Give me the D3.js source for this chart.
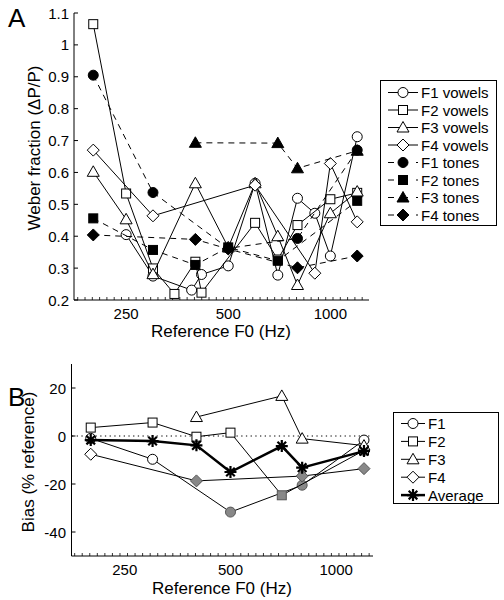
<!DOCTYPE html>
<html><head><meta charset="utf-8">
<script src="https://cdn.jsdelivr.net/npm/d3@7"></script>
<style>
body{margin:0;background:#fff}
text{font-family:"Liberation Sans",Arial,Helvetica,sans-serif;fill:#000}
</style>
</head><body>
<svg id="chart" width="504" height="600"></svg>
<script>
// ---------- Panel A data (Weber fraction) ----------
const f1VowelsF0 = [250,300,390,417,500,600,700,800,900,1000,1200];
const f1VowelsW  = [0.405,0.275,0.231,0.280,0.307,0.566,0.278,0.519,0.472,0.338,0.712];
const f2VowelsF0 = [200,250,300,347,400,417,600,700,800,1000,1200];
const f2VowelsW  = [1.065,0.534,0.299,0.219,0.320,0.223,0.442,0.327,0.435,0.516,0.536];
const f3VowelsF0 = [200,250,300,400,500,600,700,800,1000,1200];
const f3VowelsW  = [0.602,0.453,0.281,0.566,0.365,0.566,0.400,0.247,0.472,0.540];
const f4VowelsF0 = [200,300,600,900,1000,1200];
const f4VowelsW  = [0.670,0.464,0.560,0.284,0.628,0.445];
const f1TonesF0 = [200,300,500,800,1200];
const f1TonesW  = [0.905,0.537,0.362,0.393,0.670];
const f2TonesF0 = [200,300,400,500,700,1200];
const f2TonesW  = [0.456,0.357,0.310,0.365,0.323,0.511];
const f3TonesF0 = [400,700,800,1200];
const f3TonesW  = [0.693,0.692,0.613,0.668];
const f4TonesF0 = [200,400,500,800,1200];
const f4TonesW  = [0.404,0.390,0.360,0.301,0.338];
const weberTicks = [0.2,0.3,0.4,0.5,0.6,0.7,0.8,0.9,1,1.1];
const legendA = ["F1 vowels","F2 vowels","F3 vowels","F4 vowels","F1 tones","F2 tones","F3 tones","F4 tones"];

// ---------- Panel B data (Bias) ----------
const biasF1F0 = [200,300,500,800,1200];
const biasF1   = [-1.0,-9.7,-31.7,-20.5,-1.7];
const biasF1Sig= [0,0,1,1,0];
const biasF2F0 = [200,300,400,500,700,1200];
const biasF2   = [3.5,5.6,-0.3,1.4,-24.7,-6.0];
const biasF2Sig= [0,0,0,0,1,0];
const biasF3F0 = [400,700,800,1200];
const biasF3   = [7.9,16.7,-1.1,-4.0];
const biasF3Sig= [0,0,0,0];
const biasF4F0 = [200,400,800,1200];
const biasF4   = [-7.6,-18.7,-16.7,-13.6];
const biasF4Sig= [0,1,1,1];
const avgF0 = [200,300,400,500,700,800,1200];
const avgBias = [-1.7,-2.1,-3.9,-15.0,-4.2,-13.2,-6.3];
const biasTicks = [-40,-20,0,20];
const legendB = ["F1","F2","F3","F4","Average"];

const f0Labels = [250,500,1000];

// ---------- helpers ----------
const svg = d3.select("#chart");
const FONT = 15;

function marker(g, type, x, y, fill, stroke) {
  stroke = stroke || "#000";
  let el;
  if (type === "circle") {
    el = g.append("circle").attr("cx", x).attr("cy", y).attr("r", 5);
  } else if (type === "square") {
    el = g.append("rect").attr("x", x-4.5).attr("y", y-4.5).attr("width", 9).attr("height", 9);
  } else if (type === "triangle") {
    el = g.append("path").attr("d", `M${x},${y-6}L${x+6},${y+4.5}L${x-6},${y+4.5}Z`);
  } else if (type === "diamond") {
    el = g.append("path").attr("d", `M${x},${y-6}L${x+6},${y}L${x},${y+6}L${x-6},${y}Z`);
  } else if (type === "star") {
    const a = 6, b = 4.3;
    g.append("path").attr("d",
      `M${x-a},${y}L${x+a},${y}M${x},${y-a}L${x},${y+a}M${x-b},${y-b}L${x+b},${y+b}M${x-b},${y+b}L${x+b},${y-b}`)
      .attr("stroke-width", 2.2).attr("fill","none").attr("stroke","#000");
    return;
  }
  el.attr("fill", fill).attr("stroke", stroke).attr("stroke-width", 1);
}

function minorTicks(lo, hi) {
  const out = [];
  for (let k = 0; ; k++) {
    const v = lo * Math.pow(2, k/14);
    if (v > hi) break;
    out.push(v);
  }
  return out;
}

function drawXAxis(g, x, yPix, x0, x1) {
  g.append("line").attr("x1", x0).attr("x2", x1).attr("y1", yPix).attr("y2", yPix)
    .attr("stroke","#000").attr("stroke-width",1);
  minorTicks(180, 1270).forEach(v => {
    g.append("line").attr("x1", x(v)).attr("x2", x(v)).attr("y1", yPix).attr("y2", yPix-3)
      .attr("stroke","#000").attr("stroke-width",0.8);
  });
  f0Labels.forEach(v => {
    g.append("text").attr("x", x(v)).attr("y", yPix+19).attr("text-anchor","middle")
      .attr("font-size", FONT).text(v);
  });
}

// ================= PANEL A =================
const xA = d3.scaleLog().domain([175.5,1300]).range([74,369]);
const yA = d3.scaleLinear().domain([0.2,1.1]).range([300,13]);
const gA = svg.append("g");

gA.append("line").attr("x1",74).attr("x2",74).attr("y1",13).attr("y2",300).attr("stroke","#000");
weberTicks.forEach(v => {
  gA.append("line").attr("x1",74).attr("x2",78).attr("y1",yA(v)).attr("y2",yA(v)).attr("stroke","#000");
  gA.append("text").attr("x",69).attr("y",yA(v)+5.5).attr("text-anchor","end")
    .attr("font-size",FONT).text(d3.format("~g")(v));
});
drawXAxis(gA, xA, 300, 74, 369);
gA.append("text").attr("x",221).attr("y",337).attr("text-anchor","middle").attr("font-size",17)
  .text("Reference F0 (Hz)");
gA.append("text").attr("transform","translate(40,148) rotate(-90)").attr("text-anchor","middle")
  .attr("font-size",17).text("Weber fraction (\u0394P/P)");
svg.append("text").attr("x",8).attr("y",27).attr("font-size",26).text("A");

const seriesA = [
  {f:f1VowelsF0, w:f1VowelsW, m:"circle",   fill:"#fff", dash:null},
  {f:f2VowelsF0, w:f2VowelsW, m:"square",   fill:"#fff", dash:null},
  {f:f3VowelsF0, w:f3VowelsW, m:"triangle", fill:"#fff", dash:null},
  {f:f4VowelsF0, w:f4VowelsW, m:"diamond",  fill:"#fff", dash:null},
  {f:f1TonesF0,  w:f1TonesW,  m:"circle",   fill:"#000", dash:"6,5"},
  {f:f2TonesF0,  w:f2TonesW,  m:"square",   fill:"#000", dash:"6,5"},
  {f:f3TonesF0,  w:f3TonesW,  m:"triangle", fill:"#000", dash:"6,5"},
  {f:f4TonesF0,  w:f4TonesW,  m:"diamond",  fill:"#000", dash:"6,5"}
];
const lineA = d3.line().x(d => xA(d[0])).y(d => yA(d[1]));
seriesA.forEach(s => {
  const pts = s.f.map((f,i) => [f, s.w[i]]);
  gA.append("path").attr("d", lineA(pts)).attr("fill","none").attr("stroke","#000")
    .attr("stroke-width",1).attr("stroke-dasharray", s.dash);
  pts.forEach(p => marker(gA, s.m, xA(p[0]), yA(p[1]), s.fill));
});

const lgA = svg.append("g");
lgA.append("rect").attr("x",380.5).attr("y",80.5).attr("width",116).attr("height",145)
  .attr("fill","#fff").attr("stroke","#000");
seriesA.forEach((s,i) => {
  const yy = 92.5 + i*17.5;
  lgA.append("line").attr("x1",388).attr("x2",418).attr("y1",yy).attr("y2",yy)
    .attr("stroke","#000").attr("stroke-dasharray", s.dash ? "6,8" : null);
  marker(lgA, s.m, 403, yy, s.fill);
  lgA.append("text").attr("x",421).attr("y",yy+5.5).attr("font-size",FONT).text(legendA[i]);
});

// ================= PANEL B =================
const xB = d3.scaleLog().domain([176.3,1273]).range([71.5,373]);
const yB = d3.scaleLinear().domain([-50,30]).range([556,364]);
const gB = svg.append("g");
gB.append("line").attr("x1",71.5).attr("x2",71.5).attr("y1",364).attr("y2",556).attr("stroke","#000");
biasTicks.forEach(v => {
  gB.append("line").attr("x1",71.5).attr("x2",75.5).attr("y1",yB(v)).attr("y2",yB(v)).attr("stroke","#000");
  gB.append("text").attr("x",66).attr("y",yB(v)+5.5).attr("text-anchor","end")
    .attr("font-size",FONT).text(v);
});
drawXAxis(gB, xB, 556, 71.5, 373);
gB.append("line").attr("x1",72).attr("x2",370).attr("y1",yB(0)).attr("y2",yB(0))
  .attr("stroke","#000").attr("stroke-dasharray","1.3,3.4");
gB.append("text").attr("x",222).attr("y",594).attr("text-anchor","middle").attr("font-size",17)
  .text("Reference F0 (Hz)");
gB.append("text").attr("transform","translate(34,462) rotate(-90)").attr("text-anchor","middle")
  .attr("font-size",17).text("Bias (% reference)");
svg.append("text").attr("x",8).attr("y",406).attr("font-size",26).text("B");

const seriesB = [
  {f:biasF1F0, v:biasF1, sig:biasF1Sig, m:"circle"},
  {f:biasF2F0, v:biasF2, sig:biasF2Sig, m:"square"},
  {f:biasF3F0, v:biasF3, sig:biasF3Sig, m:"triangle"},
  {f:biasF4F0, v:biasF4, sig:biasF4Sig, m:"diamond"}
];
const lineB = d3.line().x(d => xB(d[0])).y(d => yB(d[1]));
seriesB.forEach(s => {
  const pts = s.f.map((f,i) => [f, s.v[i], s.sig[i]]);
  gB.append("path").attr("d", lineB(pts)).attr("fill","none").attr("stroke","#000").attr("stroke-width",1);
  pts.forEach(p => marker(gB, s.m, xB(p[0]), yB(p[1]), p[2] ? "#888" : "#fff", p[2] ? "#555" : "#000"));
});
const avgPts = avgF0.map((f,i) => [f, avgBias[i]]);
gB.append("path").attr("d", lineB(avgPts)).attr("fill","none").attr("stroke","#000").attr("stroke-width",2.5);
avgPts.forEach(p => marker(gB, "star", xB(p[0]), yB(p[1])));

const lgB = svg.append("g");
lgB.append("rect").attr("x",393.5).attr("y",412.5).attr("width",105).attr("height",91)
  .attr("fill","#fff").attr("stroke","#000");
["circle","square","triangle","diamond","star"].forEach((m,i) => {
  const yy = 423.5 + i*17.9;
  lgB.append("line").attr("x1",401).attr("x2",425).attr("y1",yy).attr("y2",yy)
    .attr("stroke","#000").attr("stroke-width", m === "star" ? 2.5 : 1);
  marker(lgB, m, 413, yy, "#fff");
  lgB.append("text").attr("x",428).attr("y",yy+5.5).attr("font-size",FONT).text(legendB[i]);
});
</script>
</body></html>
